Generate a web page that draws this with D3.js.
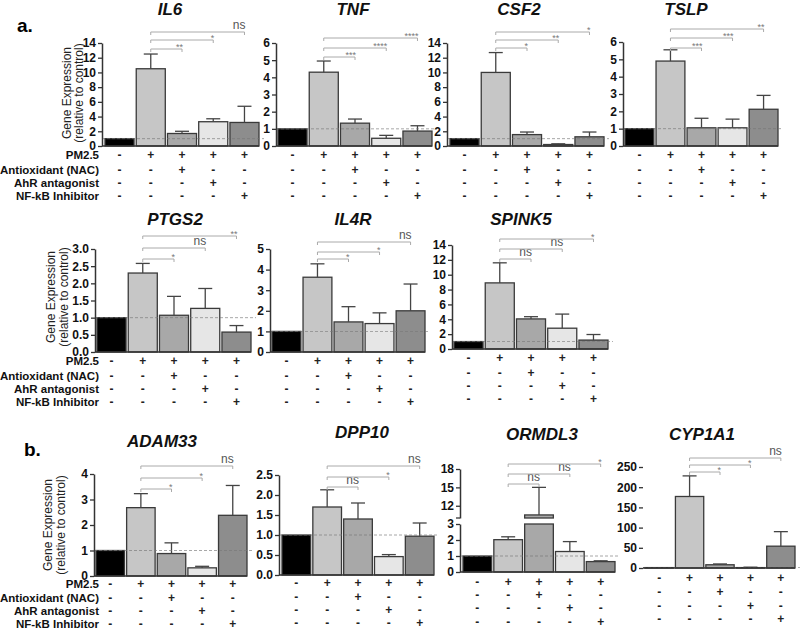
<!DOCTYPE html>
<html><head><meta charset="utf-8">
<script src="https://cdn.jsdelivr.net/npm/d3@7"></script>
<style>body{margin:0;background:#fff;} text{font-family:Arial,"Liberation Sans",sans-serif;}</style>
</head><body><svg id="c" width="800" height="630"></svg>
<script>
// ---------------- DATA ----------------
const genes = ["IL6","TNF","CSF2","TSLP","PTGS2","IL4R","SPINK5","ADAM33","DPP10","ORMDL3","CYP1A1"];
const treatments = ["PM2.5","Antioxidant (NAC)","AhR antagonist","NF-kB Inhibitor"];
const signs = [
  ["-","+","+","+","+"],
  ["-","-","+","-","-"],
  ["-","-","-","+","-"],
  ["-","-","-","-","+"]
];
const meanValues = [
  [1, 10.5, 1.7, 3.3, 3.2],     // IL6
  [1, 4.3, 1.33, 0.45, 0.87],   // TNF
  [1, 10.0, 1.55, 0.2, 1.25],   // CSF2
  [1, 4.9, 1.05, 1.05, 2.12],   // TSLP
  [1, 2.3, 1.07, 1.27, 0.58],   // PTGS2
  [1, 3.63, 1.46, 1.38, 2.0],   // IL4R
  [1, 8.9, 4.05, 2.8, 1.2],     // SPINK5
  [1, 2.68, 0.88, 0.32, 2.38],  // ADAM33
  [1, 1.7, 1.4, 0.46, 0.97],    // DPP10
  [1, 2.02, 10.5, 1.28, 0.65],  // ORMDL3
  [1, 177, 8, 1, 54]            // CYP1A1
];
const semValues = [
  [0, 2.0, 0.3, 0.4, 2.2],
  [0, 0.65, 0.24, 0.17, 0.31],
  [0, 2.7, 0.35, 0.1, 0.65],
  [0, 0.65, 0.55, 0.5, 0.8],
  [0, 0.28, 0.55, 0.58, 0.19],
  [0, 0.65, 0.74, 0.52, 1.3],
  [0, 2.7, 0.3, 1.9, 0.75],
  [0, 0.55, 0.42, 0.06, 1.17],
  [0, 0.43, 0.4, 0.05, 0.33],
  [0, 0.18, 4.5, 0.62, 0.05],
  [0, 51, 2, 1, 36]
];
const yMaxValues = [14, 6, 14, 6, 3, 5, 14, 4, 2.5, 3, 250];
const yTickSteps = [2, 1, 2, 1, 0.5, 1, 2, 1, 0.5, 1, 50];
const brokenUpperTicks = [12, 15, 18];   // ORMDL3 upper segment
const brokenUpperDomain = [10, 18];
const sigLabels = [
  ["**","*","ns"], ["***","****","****"], ["*","**","*"], ["***","***","**"],
  ["*","ns","**"], ["*","*","ns"], ["ns","ns","*"],
  ["*","*","ns"], ["ns","*","ns"], ["ns","ns","*"], ["*","*","ns"]
];
const barColors = ["#000000","#c6c6c6","#a8a8a8","#e6e6e6","#8d8d8d"];

// ---------------- LAYOUT ----------------
const layout = [
  {ax:102, x0:105, x1:259, y0:146, yTop:43,  tx:170, ty:15,  br:[49,40,32]},
  {ax:276, x0:278, x1:432, y0:146, yTop:43,  tx:353, ty:15,  br:[57,48,38]},
  {ax:447, x0:450, x1:604, y0:146, yTop:43,  tx:519, ty:15,  br:[48,40,32]},
  {ax:623, x0:625, x1:778, y0:146, yTop:42,  tx:686, ty:15,  br:[48,38,29]},
  {ax:95,  x0:97,  x1:251, y0:352, yTop:249, tx:175, ty:225, br:[259,248,236]},
  {ax:270, x0:272, x1:425, y0:352, yTop:249, tx:353, ty:225, br:[259,252,242]},
  {ax:452, x0:454, x1:608, y0:349, yTop:245, tx:521, ty:225, br:[259,249,239]},
  {ax:94,  x0:96,  x1:247, y0:576, yTop:474, tx:162, ty:447, br:[489,478,466], so:[8,22,35,48]},
  {ax:279, x0:282, x1:434, y0:575, yTop:475, tx:362, ty:438, br:[487,477,466], so:[8,22,35,48]},
  {ax:460, x0:463, x1:615, y0:572, yTop:524, tx:542, ty:440, br:[484,474,464], upper:[518,469], so:[10,23,36,50]},
  {ax:643, x0:645, x1:795, y0:568, yTop:467, tx:702, ty:440, br:[472,465,458], noAxisLine:true, so:[10,24,38,51]}
];
const signOffsets = [9, 24, 37, 50];
const labelPanels = [0, 4, 7];
const yTitles = [{x1:67,x2:79,y:93},{x1:51,x2:64,y:297},{x1:48,x2:61,y:525}];

const svg = d3.select("#c");
svg.append("text").attr("x",17).attr("y",32).attr("font-size",19).attr("font-weight","bold").text("a.");
svg.append("text").attr("x",24).attr("y",456).attr("font-size",19).attr("font-weight","bold").text("b.");

genes.forEach((g, p) => {
  const L = layout[p];
  const so = L.so || signOffsets;
  const vals = meanValues[p], sems = semValues[p];
  const G = svg.append("g");
  const x = d3.scaleBand().domain(d3.range(5)).range([L.x0, L.x1]).paddingInner(0.07).paddingOuter(0);
  const y = d3.scaleLinear().domain([0, yMaxValues[p]]).range([L.y0, L.yTop]);
  const yU = L.upper ? d3.scaleLinear().domain(brokenUpperDomain).range(L.upper) : null;
  const fmt = yTickSteps[p] < 1 ? d3.format(".1f") : d3.format("d");
  const ticks = d3.range(0, yMaxValues[p] + 1e-9, yTickSteps[p]);

  G.append("text").attr("x", L.tx).attr("y", L.ty).attr("text-anchor","middle")
    .attr("font-size",17).attr("font-weight","bold").attr("font-style","italic").attr("fill","#111").text(g);

  vals.forEach((v, i) => {
    const broken = yU && v > yMaxValues[p];
    const top = broken ? yMaxValues[p] : v;
    G.append("rect").attr("x", x(i)).attr("width", x.bandwidth())
      .attr("y", y(top)).attr("height", Math.max(0.5, L.y0 - y(top)))
      .attr("fill", barColors[i]).attr("stroke","#3a3a3a").attr("stroke-width",1.3);
    if (broken) {
      G.append("rect").attr("x", x(i)).attr("width", x.bandwidth())
        .attr("y", yU(v)).attr("height", yU(brokenUpperDomain[0]) - yU(v))
        .attr("fill", barColors[i]).attr("stroke","#3a3a3a").attr("stroke-width",1.3);
    }
    if (sems[i] > 0) {
      const sc = broken ? yU : y;
      const cx = x(i) + x.bandwidth()/2;
      G.append("line").attr("x1",cx).attr("x2",cx).attr("y1",sc(v)).attr("y2",sc(v+sems[i]))
        .attr("stroke","#444").attr("stroke-width",1.3);
      G.append("line").attr("x1",cx-7).attr("x2",cx+7).attr("y1",sc(v+sems[i])).attr("y2",sc(v+sems[i]))
        .attr("stroke","#444").attr("stroke-width",1.3);
    }
  });

  G.append("line").attr("x1", L.ax).attr("x2", L.x1 + 5).attr("y1", y(1)).attr("y2", y(1))
    .attr("stroke","#777").attr("stroke-width",0.8).attr("stroke-dasharray","3,2").attr("opacity",0.8);

  const ax = d3.axisLeft(y).tickValues(ticks).tickFormat(fmt).tickSize(4).tickSizeOuter(0).tickPadding(2);
  const ag = G.append("g").attr("transform",`translate(${L.ax},0)`).call(ax);
  if (yU) {
    const ax2 = d3.axisLeft(yU).tickValues(brokenUpperTicks).tickFormat(d3.format("d")).tickSize(4).tickSizeOuter(0).tickPadding(2);
    const ag2 = G.append("g").attr("transform",`translate(${L.ax},0)`).call(ax2);
    ag2.selectAll("text").attr("font-size",12).attr("font-weight","bold").attr("fill","#111");
    ag2.selectAll("line").attr("stroke","#333").attr("stroke-width",1.3);
    ag2.select(".domain").attr("stroke","#333").attr("stroke-width",1.5);
    ag2.append("line").attr("x1",-4).attr("x2",0).attr("y1",L.upper[0]).attr("y2",L.upper[0]).attr("stroke","#333").attr("stroke-width",1.3);
  }
  ag.selectAll("text").attr("font-size",12).attr("font-weight","bold").attr("fill","#111");
  ag.selectAll("line").attr("stroke","#333").attr("stroke-width",1.3);
  ag.select(".domain").attr("stroke","#333").attr("stroke-width",1.5).attr("opacity", L.noAxisLine ? 0 : 1);
  G.append("line").attr("x1", L.ax).attr("x2", L.x1).attr("y1", L.y0).attr("y2", L.y0)
    .attr("stroke","#333").attr("stroke-width",1.5);

  const sx = x(1) + x.bandwidth()/2;
  sigLabels[p].forEach((lab, k) => {
    const ex = x(k+2) + x.bandwidth()/2;
    const by = L.br[k];
    G.append("path").attr("d", `M${sx},${by+3}V${by}H${ex}V${by+3}`)
      .attr("fill","none").attr("stroke","#aaa").attr("stroke-width",1);
    const ns = lab === "ns";
    G.append("text").attr("x", ex + 1).attr("y", ns ? by - 3 : by + 1).attr("text-anchor","end")
      .attr("font-size", ns ? 12 : 9).attr("fill", ns ? "#555" : "#777").text(lab);
  });

  signs.forEach((row, r) => {
    row.forEach((s, i) => {
      G.append("text").attr("x", x(i) + x.bandwidth()/2).attr("y", L.y0 + so[r])
        .attr("text-anchor","middle").attr("dominant-baseline","central")
        .attr("font-size",12).attr("font-weight","bold").attr("fill","#222").text(s);
    });
  });
});

labelPanels.forEach((p, j) => {
  const L = layout[p];
  const so = L.so || signOffsets;
  treatments.forEach((t, r) => {
    svg.append("text").attr("x", 99).attr("y", L.y0 + so[r]).attr("text-anchor","end")
      .attr("dominant-baseline","central").attr("font-size",11.5).attr("font-weight","bold").attr("fill","#111").text(t);
  });
  const T = yTitles[j];
  [["Gene Expression", T.x1], ["(relative to control)", T.x2]].forEach(([s, xx]) => {
    svg.append("text").attr("transform", `translate(${xx},${T.y}) rotate(-90)`)
      .attr("text-anchor","middle").attr("dominant-baseline","central")
      .attr("font-size",12).attr("fill","#222").text(s);
  });
});
</script></body></html>
